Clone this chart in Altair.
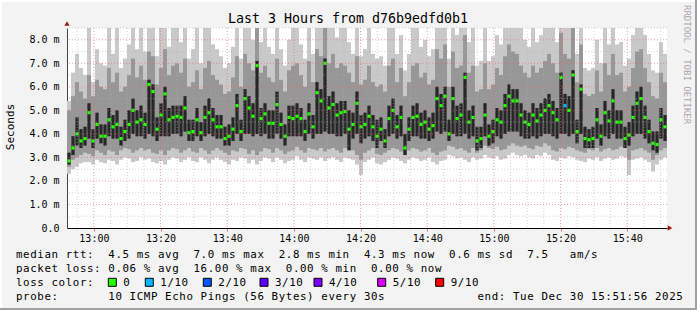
import altair as alt
import pandas as pd

# ---------------- data ----------------
# 150 columns of 72 s each (3 hours), values in milliseconds
median = [2.85,3.4,4.0,3.7,3.8,4.9,3.7,4.4,3.9,3.9,4.6,4.3,4.4,3.8,4.1,4.4,5.0,4.5,4.6,4.4,6.1,5.8,4.2,4.8,5.7,4.6,4.7,4.75,4.7,5.1,4.05,4.1,4.6,4.05,4.7,4.9,4.6,
          4.3,4.3,3.8,3.9,4.2,5.2,4.1,5.5,5.1,4.75,6.9,4.65,4.85,4.45,4.45,5.25,4.4,3.9,4.7,4.65,4.75,4.65,4.1,4.85,4.3,5.75,5.4,7.0,5.1,5.25,4.8,4.9,4.95,4.2,4.4,5.3,4.3,
          4.4,4.75,4.3,3.9,4.2,3.7,4.65,5.0,4.3,4.7,3.4,4.2,4.7,4.75,4.4,4.5,4.2,4.35,5.5,5.2,5.6,4.0,5.5,4.65,4.8,6.4,4.5,4.7,3.7,3.8,4.8,3.9,4.1,4.6,4.5,5.2,5.6,
          5.4,5.4,4.8,4.5,4.4,4.8,4.55,4.8,5.0,5.2,4.9,4.6,6.4,5.2,5.0,6.5,4.1,5.9,3.8,3.75,3.8,4.6,3.9,4.9,4.55,5.4,4.5,4.5,3.8,3.95,4.7,5.3,5.5,4.7,4.1,3.6,3.55,4.6,4.3]
smoke_min = [2.3,2.5,2.6,2.75,2.8,2.8,2.7,2.9,2.8,2.75,2.9,2.85,2.7,2.9,3.0,2.95,2.8,2.85,3.0,2.9,2.95,2.8,2.75,2.85,2.7,2.9,3.0,2.95,2.8,2.9,3.0,2.85,2.8,3.0,2.9,2.75,2.9,
             3.0,2.9,2.8,2.7,2.9,2.85,3.0,2.95,2.75,2.9,2.7,2.85,3.0,2.95,2.8,3.0,2.9,2.75,2.85,2.9,3.05,2.9,2.8,3.0,2.95,2.9,3.0,2.85,2.95,3.0,2.9,2.8,3.0,2.95,2.9,2.7,2.25,
             2.8,2.9,3.0,2.75,2.7,2.8,2.9,3.0,2.95,2.85,2.75,2.9,3.0,2.95,2.85,2.9,3.0,2.8,2.7,2.85,2.9,3.1,3.05,2.95,3.0,2.9,2.8,3.0,2.9,2.95,3.1,3.0,2.95,3.05,2.9,2.95,3.1,
             3.2,3.1,3.05,3.1,3.0,2.95,3.1,3.05,3.2,3.1,2.9,2.85,3.0,2.95,3.05,3.0,2.9,2.85,2.8,2.95,2.9,3.0,2.85,2.95,3.0,2.9,2.95,3.05,3.0,2.25,2.9,2.95,3.0,2.9,2.8,2.4,2.7,2.9,3.0]
smoke_max = [5.4,6.6,7.4,6.8,6.5,8.6,6.2,7.6,7.0,6.9,8.6,7.4,8.6,6.8,7.2,7.8,8.6,7.6,8.6,7.5,8.6,8.6,7.3,8.6,8.6,7.7,8.6,8.6,7.9,8.6,7.2,7.6,8.6,7.0,8.6,8.6,7.8,
             7.6,7.3,6.8,7.0,7.7,8.6,7.2,8.6,8.6,8.0,8.6,7.9,8.6,7.7,7.4,8.6,7.6,6.9,8.0,8.6,8.6,7.8,7.2,8.6,7.4,8.6,8.6,8.6,8.6,8.6,8.1,8.6,8.6,7.9,7.4,8.6,7.3,
             7.6,8.6,7.4,7.2,7.3,6.9,8.6,8.6,7.4,8.2,6.7,7.4,8.6,8.6,7.7,8.0,7.3,7.6,8.6,8.6,8.6,7.2,8.6,8.2,8.6,8.6,7.9,8.6,6.9,7.1,8.6,7.1,7.3,8.2,7.8,8.6,8.6,
             8.6,8.6,8.6,8.0,7.7,8.6,7.9,8.2,8.6,8.6,8.6,7.9,8.6,8.6,8.6,8.6,7.4,8.6,6.8,6.7,6.8,8.0,7.0,8.6,7.8,8.6,7.8,7.9,6.9,7.2,8.2,8.6,8.6,8.2,7.4,6.7,6.6,7.9,7.4]
mid_low = [2.6,2.9,3.0,3.1,3.2,3.15,3.05,3.3,3.2,3.1,3.3,3.25,3.1,3.3,3.4,3.35,3.2,3.3,3.4,3.3,3.35,3.2,3.15,3.3,3.1,3.3,3.4,3.35,3.2,3.3,3.4,3.25,3.2,3.4,3.3,3.15,3.3,
           3.4,3.3,3.2,3.1,3.3,3.25,3.4,3.35,3.15,3.3,3.1,3.25,3.4,3.35,3.2,3.4,3.3,3.15,3.25,3.3,3.45,3.3,3.2,3.4,3.35,3.3,3.4,3.25,3.35,3.4,3.3,3.2,3.4,3.35,3.3,3.1,2.9,
           3.2,3.3,3.4,3.15,3.1,3.2,3.3,3.4,3.35,3.25,3.1,3.3,3.4,3.35,3.25,3.3,3.4,3.2,3.1,3.25,3.3,3.5,3.45,3.35,3.4,3.3,3.2,3.4,3.2,3.3,3.5,3.4,3.35,3.45,3.3,3.35,3.5,
           3.6,3.5,3.45,3.5,3.4,3.35,3.5,3.45,3.6,3.5,3.3,3.25,3.4,3.35,3.45,3.4,3.3,3.25,3.2,3.35,3.3,3.4,3.25,3.35,3.4,3.3,3.35,3.45,3.4,2.9,3.3,3.35,3.4,3.3,3.2,2.9,3.1,3.3,3.4]
mid_high = [5.0,5.6,6.2,5.8,5.5,6.5,5.6,6.3,6.0,5.9,6.8,6.2,6.6,5.8,6.0,6.5,7.2,6.4,6.9,6.3,7.5,7.3,6.1,6.8,7.6,6.5,6.9,7.0,6.6,7.2,6.0,6.2,6.7,5.9,6.8,7.1,6.5,
            6.3,6.1,5.7,5.8,6.4,7.3,6.0,7.4,7.0,6.7,8.6,6.6,6.9,6.4,6.2,7.2,6.3,5.8,6.7,6.9,7.0,6.5,6.0,7.1,6.2,7.6,7.3,8.6,7.0,7.4,6.8,7.0,6.9,6.6,6.2,7.3,6.1,
            6.3,6.9,6.2,6.0,6.1,5.8,6.9,7.2,6.2,6.8,5.6,6.2,6.9,7.0,6.4,6.6,6.1,6.3,7.6,7.2,7.8,6.0,7.5,6.8,6.9,8.2,6.6,6.9,5.8,5.9,7.0,5.9,6.1,6.8,6.5,7.3,7.8,
            7.5,7.4,6.9,6.6,6.4,6.9,6.6,6.8,7.1,7.4,7.0,6.6,8.3,7.4,7.2,8.5,6.2,7.8,5.7,5.6,5.7,6.7,5.8,7.0,6.5,7.4,6.5,6.6,5.8,6.0,6.8,7.5,7.6,6.8,6.2,5.6,5.5,6.6,6.2]
core_low = [2.7,3.1,3.5,3.4,3.5,3.8,3.4,3.8,3.6,3.5,3.9,3.8,3.8,3.5,3.7,3.8,4.0,3.9,3.9,3.8,4.0,3.9,3.7,3.9,3.9,3.9,4.0,4.0,3.9,4.1,3.7,3.7,3.9,3.7,3.9,4.0,3.9,
            3.8,3.8,3.5,3.5,3.7,4.0,3.7,4.0,4.0,3.9,4.0,3.9,4.0,3.8,3.8,4.0,3.8,3.5,3.9,3.9,3.9,3.9,3.7,4.0,3.8,4.0,4.0,4.1,4.0,4.0,3.9,3.9,4.0,3.3,3.8,4.0,3.6,
            3.8,3.9,3.7,3.4,3.7,3.4,3.9,4.0,3.8,3.9,3.1,3.7,3.9,3.9,3.8,3.8,3.7,3.8,4.1,4.0,4.1,3.7,4.0,3.9,3.9,4.0,3.8,3.9,3.3,3.4,3.9,3.5,3.6,3.9,3.8,4.0,4.1,
            4.1,4.1,3.9,3.8,3.8,3.9,3.8,3.9,4.0,4.0,3.9,3.8,4.0,4.0,3.9,4.0,3.6,4.0,3.4,3.4,3.4,3.8,3.5,3.9,3.8,4.0,3.8,3.8,3.4,3.5,3.9,4.0,4.0,3.8,3.6,3.3,3.2,3.8,3.7]
core_high = [3.2,3.9,4.7,4.2,4.3,5.3,4.2,4.9,4.4,4.4,5.1,4.8,5.0,4.3,4.6,5.0,5.5,5.0,5.2,4.9,6.3,6.1,4.7,5.3,6.0,5.1,5.2,5.2,5.2,5.6,4.6,4.6,5.1,4.5,5.2,5.5,5.1,
             4.8,4.8,4.3,4.4,4.7,5.7,4.6,5.9,5.6,5.3,7.1,5.1,5.3,5.0,5.0,5.8,4.9,4.4,5.2,5.2,5.3,5.1,4.6,5.3,4.8,6.2,5.9,7.2,5.6,5.8,5.3,5.4,5.4,5.0,4.9,5.8,4.8,
             4.9,5.2,4.8,4.6,4.7,4.2,5.2,5.5,4.8,5.2,4.0,4.7,5.2,5.3,4.9,5.0,4.7,4.9,6.0,5.7,6.0,4.6,6.0,5.2,5.3,6.6,5.0,5.2,4.3,4.3,5.3,4.4,4.6,5.1,5.0,5.7,6.1,
             5.9,5.9,5.3,5.0,4.9,5.3,5.1,5.3,5.5,5.7,5.4,5.1,6.6,5.7,5.6,6.7,4.6,6.1,4.3,4.2,4.3,5.1,4.4,5.4,5.0,5.9,5.0,5.0,4.3,4.5,5.2,5.8,6.0,5.2,4.6,4.1,4.1,5.1,4.8]
# lost pings per column (out of 10)
loss = [0] * 124 + [1] + [0] * 25

y_ticks = [0, 1, 2, 3, 4, 5, 6, 7, 8]
loss_labels = ["0", "1/10", "2/10", "3/10", "4/10", "5/10", "9/10"]
loss_colors = ["#26ff00", "#00b8ff", "#0059ff", "#5e00ff", "#7e00ff", "#dd00ff", "#ff0000"]
loss_color_of = {0: "#26ff00", 1: "#00b8ff"}

title_text = "Last 3 Hours from d76b9edfd0b1"
legend_lines = [
    "median rtt:  4.5 ms avg  7.0 ms max  2.8 ms min  4.3 ms now  0.6 ms sd  7.5   am/s",
    "packet loss: 0.06 % avg  16.00 % max  0.00 % min  0.00 % now",
    "loss color:",
    "probe:       10 ICMP Echo Pings (56 Bytes) every 30s             end: Tue Dec 30 15:51:56 2025",
]

for arr in (median, smoke_min, smoke_max, mid_low, mid_high, core_low, core_high, loss):
    assert len(arr) == 150, len(arr)

# ---------------- layout ----------------
W, H = 600, 200
PL, PT = 67, 28
MONO = "DejaVu Sans Mono"
START = pd.Timestamp("2025-12-30 12:51:56")
STEP = pd.Timedelta(seconds=72)
END = START + 150 * STEP
FMT = "%Y-%m-%dT%H:%M:%S"

t0 = [START + i * STEP for i in range(150)]
df = pd.DataFrame({
    "t0": [t.strftime(FMT) for t in t0],
    "t1": [(t + STEP).strftime(FMT) for t in t0],
    "tm": [(t + STEP / 2).strftime(FMT) for t in t0],
    "med": median, "lo1": smoke_min, "hi1": smoke_max,
    "lo2": mid_low, "hi2": mid_high, "lo3": core_low, "hi3": core_high,
    "col": [loss_color_of[v] for v in loss],
})

def dt(ts):
    return alt.DateTime(year=ts.year, month=ts.month, date=ts.day,
                        hours=ts.hour, minutes=ts.minute, seconds=ts.second)

xscale = alt.Scale(domain=[dt(START), dt(END)])
yscale = alt.Scale(domain=[0, 8.5])

major_x = pd.date_range("2025-12-30 13:00", "2025-12-30 15:40", freq="20min")
minor_x = [t for t in pd.date_range("2025-12-30 12:55", "2025-12-30 15:50", freq="5min") if t.minute % 20 != 0]

xaxis = alt.Axis(values=[dt(t) for t in major_x], format="%H:%M", labelFont=MONO, labelFontSize=10,
                 labelColor="#000", tickColor="#e07070", tickSize=3, labelPadding=2,
                 domainColor="#000", grid=False, title=None, labelFlush=False)
yaxis = alt.Axis(values=y_ticks, labelExpr="datum.value == 0 ? '0.0' : format(datum.value, '.1f') + ' m'",
                 labelFont=MONO, labelFontSize=10, labelColor="#000", ticks=False, labelPadding=8,
                 domainColor="#444", grid=False, title=None)

base = alt.Chart(df)

def band(lo, hi, color):
    return base.mark_rect(color=color, clip=True).encode(
        x=alt.X("t0:T", scale=xscale, axis=xaxis),
        x2="t1:T",
        y=alt.Y(f"{lo}:Q", scale=yscale, axis=yaxis),
        y2=f"{hi}:Q",
    )

l1 = band("lo1", "hi1", "#c9c9c9")
l2 = band("lo2", "hi2", "#979797")
l3 = band("lo3", "hi3", "#505050")
streak = base.mark_rule(color="#1a1a1a", strokeWidth=1.5, clip=True).encode(
    x=alt.X("tm:T", scale=xscale, axis=xaxis),
    y=alt.Y("lo3:Q", scale=yscale, axis=yaxis),
    y2="hi3:Q",
)

dots = base.mark_square(size=10, opacity=1, clip=True).encode(
    x=alt.X("tm:T", scale=xscale, axis=xaxis),
    y=alt.Y("med:Q", scale=yscale, axis=yaxis),
    color=alt.Color("col:N", scale=None),
)

# grid (drawn over the smoke, faint like rrdtool's translucent grid)
def vrules(times, color, op):
    return alt.Chart(pd.DataFrame({"t": [t.strftime(FMT) for t in times]})).mark_rule(
        color=color, strokeDash=[1, 2], opacity=op).encode(x=alt.X("t:T", scale=xscale, axis=xaxis))

def hrules(vals, color, op):
    return alt.Chart(pd.DataFrame({"v": vals})).mark_rule(
        color=color, strokeDash=[1, 2], opacity=op).encode(y=alt.Y("v:Q", scale=yscale, axis=yaxis))

gx_minor = vrules(minor_x, "#b0b0b0", 0.55)
gx_major = vrules(major_x, "#f06060", 0.6)
gy_minor = hrules([0.5 + i for i in range(9)], "#b0b0b0", 0.55)
gy_major = hrules(y_ticks[1:], "#f06060", 0.6)

# axis arrows
arrow_r = alt.Chart(pd.DataFrame({"t": [(END + pd.Timedelta(seconds=54)).strftime(FMT)], "v": [0]})).mark_point(
    shape="triangle-right", filled=True, size=28, color="#9a1818", opacity=1).encode(
    x=alt.X("t:T", scale=xscale, axis=xaxis), y=alt.Y("v:Q", scale=yscale, axis=yaxis))
arrow_u = alt.Chart(pd.DataFrame({"t": [START.strftime(FMT)], "v": [8.5 + 4.5 / 23.53]})).mark_point(
    shape="triangle-up", filled=True, size=28, color="#9a1818", opacity=1).encode(
    x=alt.X("t:T", scale=xscale, axis=xaxis), y=alt.Y("v:Q", scale=yscale, axis=yaxis))

# legend text: one glyph per character cell (rrdtool's fixed 7.1 px cell)
CH = 7.1
rows = []
baselines = [258.3, 272, 286, 299.5]
for line, by in zip(legend_lines, baselines):
    for i, c in enumerate(line):
        if c != " ":
            rows.append({"px": 16 + i * CH - PL, "py": by - PT, "text": c})
box_x = [108.3, 145.3, 203.3, 260.0, 314.0, 377.7, 435.7]
for bx, lab in zip(box_x, loss_labels):
    for i, c in enumerate(lab):
        rows.append({"px": bx + 15 + i * CH - PL, "py": 286 - PT, "text": c})

title = alt.Chart(pd.DataFrame({"text": [title_text]})).mark_text(
    font=MONO, fontSize=13.3, align="center", baseline="alphabetic", color="#000").encode(
    x=alt.value(348 - PL), y=alt.value(23 - PT), text="text:N")
ylabel = alt.Chart(pd.DataFrame({"text": ["Seconds"]})).mark_text(
    font=MONO, fontSize=11, align="center", baseline="middle", angle=270, color="#000").encode(
    x=alt.value(11 - PL), y=alt.value(127 - PT), text="text:N")
credit = alt.Chart(pd.DataFrame({"text": ["RRDTOOL / TOBI OETIKER"]})).mark_text(
    font=MONO, fontSize=9, align="left", baseline="middle", angle=90, color="#a8a8a8").encode(
    x=alt.value(687 - PL), y=alt.value(5 - PT), text="text:N")

# image border (3D frame like rrdtool)
def frame(color, **enc):
    return alt.Chart(pd.DataFrame({"a": [0]})).mark_rule(color=color, strokeWidth=2).encode(**enc)

frame_dark_r = frame("#a0a0a0", x=alt.value(696 - PL), y=alt.value(-PT), y2=alt.value(310 - PT))
frame_dark_b = frame("#a0a0a0", x=alt.value(-PL), x2=alt.value(697 - PL), y=alt.value(309 - PT))
frame_light_t = frame("#ffffff", x=alt.value(-PL), x2=alt.value(695 - PL), y=alt.value(1 - PT))
frame_light_l = frame("#ffffff", x=alt.value(1 - PL), y=alt.value(-PT), y2=alt.value(308 - PT))

plot = alt.layer(
    l1, l2, l3, streak, dots, gx_minor, gy_minor, gx_major, gy_major, arrow_r, arrow_u,
    title, ylabel, credit, frame_dark_r, frame_dark_b, frame_light_t, frame_light_l,
)

# legend texts and colour boxes: own layer with pixel positions (independent scales)
pxscale = alt.Scale(domain=[0, W])
pyscale = alt.Scale(domain=[H, 0])
legend_text = alt.Chart(pd.DataFrame(rows)).mark_text(
    font=MONO, fontSize=10.8, align="left", baseline="alphabetic", color="#000").encode(
    x=alt.X("px:Q", scale=pxscale, axis=None),
    y=alt.Y("py:Q", scale=pyscale, axis=None),
    text="text:N")
boxes = alt.Chart(pd.DataFrame({"px": [b + 4 - PL for b in box_x], "py": [282.3 - PT] * 7, "c": loss_colors})).mark_square(
    size=64, opacity=1, stroke="#000", strokeWidth=1).encode(
    x=alt.X("px:Q", scale=pxscale, axis=None),
    y=alt.Y("py:Q", scale=pyscale, axis=None),
    color=alt.Color("c:N", scale=None))
legend = alt.layer(legend_text, boxes)

chart = alt.layer(plot, legend).resolve_scale(x="independent", y="independent").properties(
    width=W, height=H, background="#f3f3f3",
    padding={"left": PL, "top": PT, "right": 697 - PL - W, "bottom": 310 - PT - H},
    autosize=alt.AutoSizeParams(type="none"),
).configure_view(fill="#ffffff", strokeWidth=0)

chart.save("out.html", embed_options={"renderer": "svg", "actions": False})
